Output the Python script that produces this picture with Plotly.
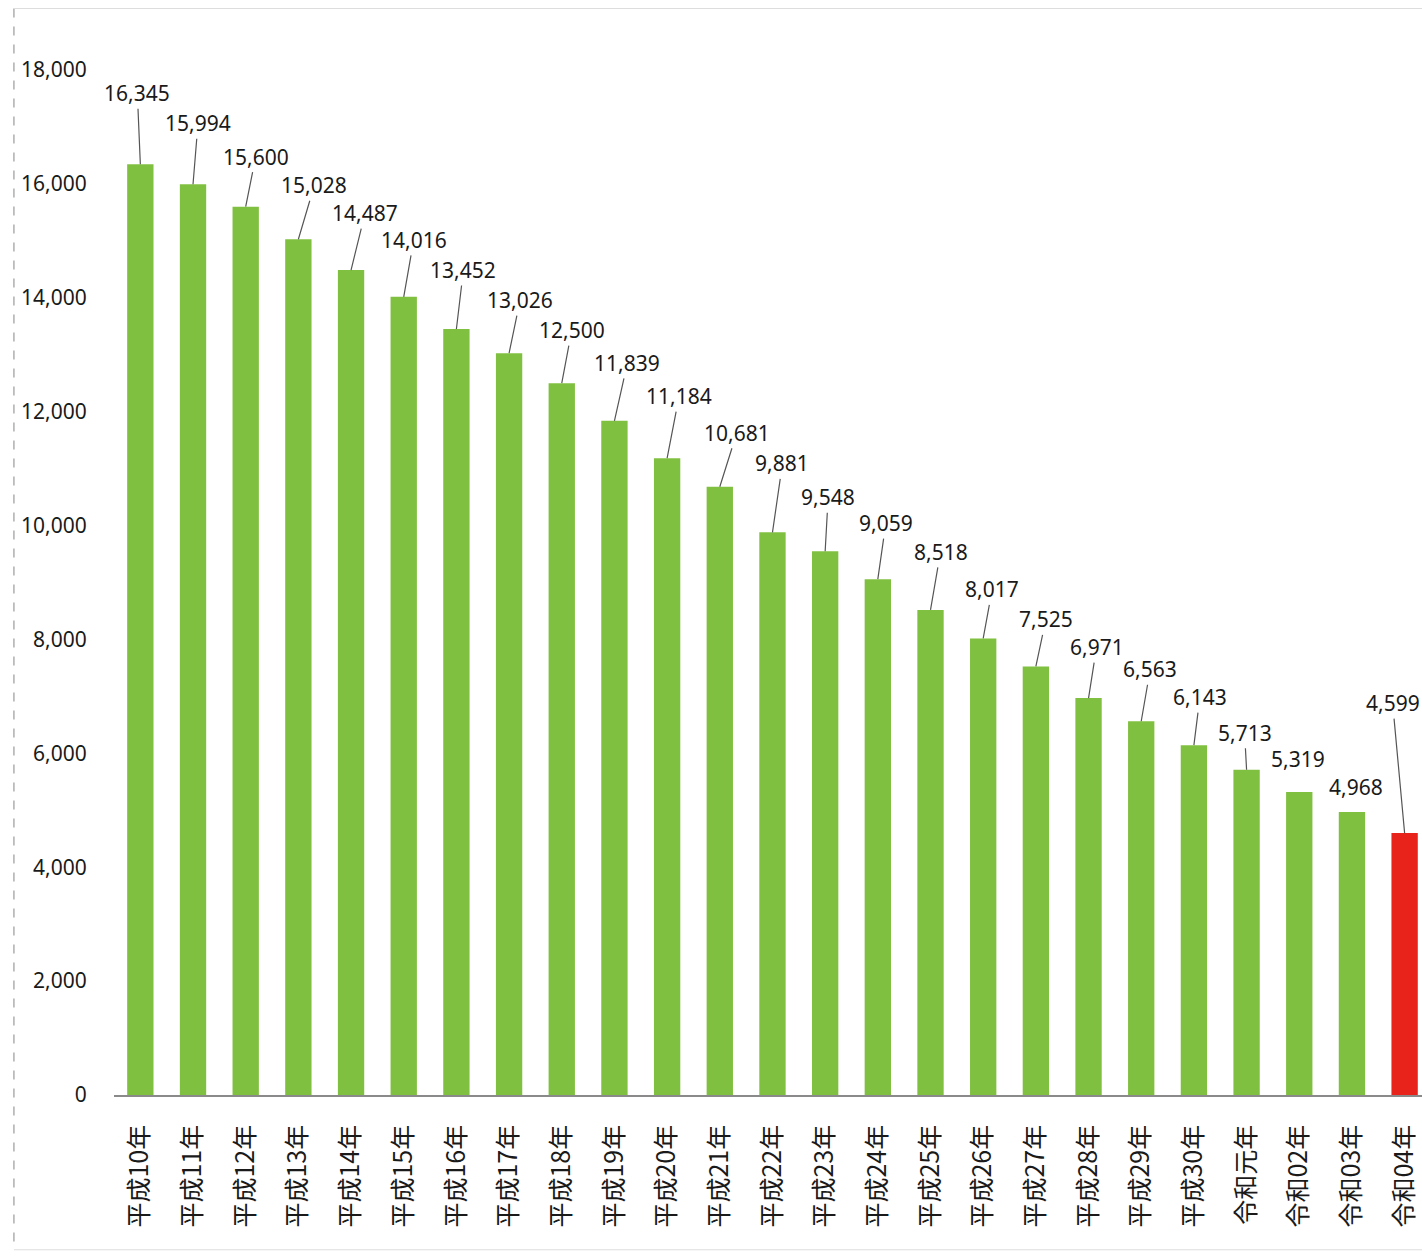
import plotly.graph_objects as go

categories = ["平成10年", "平成11年", "平成12年", "平成13年", "平成14年", "平成15年",
              "平成16年", "平成17年", "平成18年", "平成19年", "平成20年", "平成21年",
              "平成22年", "平成23年", "平成24年", "平成25年", "平成26年", "平成27年",
              "平成28年", "平成29年", "平成30年", "令和元年", "令和02年", "令和03年", "令和04年"]
values = [16345, 15994, 15600, 15028, 14487, 14016, 13452, 13026, 12500, 11839, 11184, 10681,
          9881, 9548, 9059, 8518, 8017, 7525, 6971, 6563, 6143, 5713, 5319, 4968, 4599]
y_ticks = [0, 2000, 4000, 6000, 8000, 10000, 12000, 14000, 16000, 18000]

# layout: label offsets (pixels) relative to bar tops, and leader line visibility
label_dx = [-3, 5, 10, 16, 14, 10, 7, 11, 10, 13, 12, 17, 10, 3, 8, 10, 9, 10, 8, 9, 6, -2, -1, 4, -12]
label_dy = [-71, -61, -50, -54, -57, -57, -59, -53, -53, -58, -62, -54, -69, -54, -56, -58, -49, -47,
            -51, -52, -48, -37, -33, -25, -130]
show_line = [True] * 22 + [False, False, True]

GREEN = "#80c040"
RED = "#e8231c"
colors = [GREEN] * (len(values) - 1) + [RED]

fig = go.Figure(go.Bar(x=categories, y=values, marker=dict(color=colors, line=dict(width=0)),
                       width=0.5, hoverinfo="x+y"))

font_lbl = "Noto Sans, Open Sans, sans-serif"
for c, v, dx, dy, sl in zip(categories, values, label_dx, label_dy, show_line):
    fig.add_annotation(x=c, y=v, text=f"{v:,}", showarrow=True, arrowhead=0, arrowwidth=1.2,
                       arrowcolor="#555555" if sl else "rgba(0,0,0,0)", ax=dx, ay=dy,
                       standoff=0, font=dict(family=font_lbl, size=21, color="#1a1a1a"))

# frame lines of the scanned page
fig.add_shape(type="line", xref="paper", yref="paper", x0=-0.0765, x1=-0.0765, y0=1.06, y1=-0.15,
              line=dict(color="#9a9a9a", width=1.2, dash="dash"))
fig.add_shape(type="line", xref="paper", yref="paper", x0=-0.0765, x1=1.0, y0=1.06, y1=1.06,
              line=dict(color="#dddddd", width=1))
fig.add_shape(type="line", xref="paper", yref="paper", x0=-0.0765, x1=1.0, y0=-0.151, y1=-0.151,
              line=dict(color="#dddddd", width=1))

fig.update_layout(
    width=1422, height=1256,
    margin=dict(l=114, r=0, t=70, b=161),
    paper_bgcolor="white", plot_bgcolor="white",
    showlegend=False,
    bargap=0.5,
)
fig.update_xaxes(type="category", range=[-0.5, 24.33], showline=True, linecolor="#8a8a8a",
                 linewidth=1.5, showgrid=False, tickangle=-90, ticks="outside", ticklen=18,
                 tickcolor="rgba(0,0,0,0)",
                 tickfont=dict(family="Noto Sans CJK JP, sans-serif", size=25, color="#1a1a1a"))
fig.update_yaxes(range=[0, 18000], tickvals=y_ticks, ticktext=[f"{t:,}" for t in y_ticks],
                 showgrid=False, showline=False, zeroline=False, ticks="outside", ticklen=22,
                 tickcolor="rgba(0,0,0,0)",
                 tickfont=dict(family=font_lbl, size=21, color="#1a1a1a"))

fig.write_html("out.html")
